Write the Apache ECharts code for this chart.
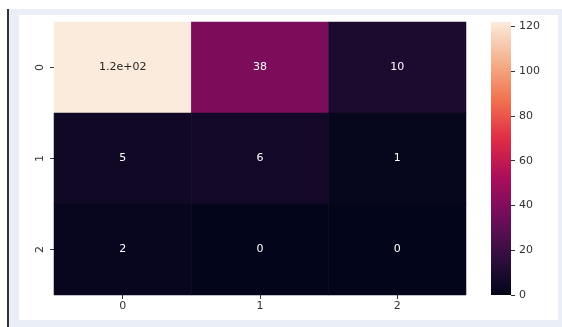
<!DOCTYPE html>
<html>
<head>
<meta charset="utf-8">
<script src="https://cdn.jsdelivr.net/npm/echarts@6/dist/echarts.min.js"></script>
<style>
  html, body { margin: 0; padding: 0; background: #ffffff; }
  #frame { position: absolute; left: 7px; top: 9px; width: 555px; height: 318px;
           background: #e9eef7; border-left: 2px solid #333; box-sizing: border-box; }
  #panel { position: absolute; left: 19px; top: 15px; width: 539px; height: 305px; background: #ffffff; }
  #chart { position: absolute; left: 0; top: 0; width: 562px; height: 327px; }
</style>
</head>
<body>
<div id="frame"></div>
<div id="panel"></div>
<div id="chart"></div>
<script>
// Data
const xCategories = ['0', '1', '2'];
const yCategories = ['0', '1', '2'];
const matrix = [
  [122, 38, 10],
  [5, 6, 1],
  [2, 0, 0]
];
const colorbarTicks = [0, 20, 40, 60, 80, 100, 120];
const colorMin = 0;
const colorMax = 122;
const rocketStops = ['#03051a', '#310f3f', '#700d5a', '#ab0d5b', '#df2c45', '#f1724f', '#f5b18c', '#faebdd'];

function fmt2g(v) {
  if (Math.abs(v) >= 100) {
    const s = v.toExponential(1); // e.g. 1.2e+2
    return s.replace(/e([+-])(\d)$/, 'e$10$2');
  }
  return String(v);
}

const heatData = [];
matrix.forEach((row, r) => {
  row.forEach((v, c) => {
    heatData.push({
      value: [c, r, v],
      label: { color: v / colorMax > 0.6 ? '#262626' : '#ffffff' }
    });
  });
});

const stopsObj = rocketStops.map((c, i) => ({ offset: i / (rocketStops.length - 1), color: c }));

const chart = echarts.init(document.getElementById('chart'), null, { renderer: 'canvas' });
const font = 'DejaVu Sans';
chart.setOption({
  animation: false,
  backgroundColor: 'transparent',
  grid: [
    { left: 54, top: 22, width: 412, height: 273, containLabel: false },
    { left: 491, top: 22, width: 20, height: 273, show: true, borderWidth: 0, containLabel: false,
      backgroundColor: { type: 'linear', x: 0, y: 1, x2: 0, y2: 0, colorStops: stopsObj } }
  ],
  xAxis: [
    { type: 'category', data: xCategories, gridIndex: 0,
      axisLine: { show: false },
      axisTick: { show: true, alignWithLabel: true, length: 4, lineStyle: { color: '#333' } },
      axisLabel: { color: '#333', fontFamily: font, fontSize: 11, margin: 6 },
      splitLine: { show: false } },
    { type: 'value', gridIndex: 1, show: false, min: 0, max: 1,
      axisLine: { show: false, onZero: false }, axisTick: { show: false },
      axisLabel: { show: false }, splitLine: { show: false } }
  ],
  yAxis: [
    { type: 'category', data: yCategories, gridIndex: 0, inverse: true,
      axisLine: { show: false },
      axisTick: { show: true, alignWithLabel: true, length: 4, lineStyle: { color: '#333' } },
      axisLabel: { color: '#333', fontFamily: font, fontSize: 11, rotate: 90, margin: 8 },
      splitLine: { show: false } },
    { type: 'value', gridIndex: 1, position: 'right', min: colorMin, max: colorMax, interval: 20,
      axisLine: { show: false, onZero: false },
      axisTick: { show: true, length: 4, lineStyle: { color: '#333' }, customValues: colorbarTicks },
      axisLabel: { color: '#333', fontFamily: font, fontSize: 11, margin: 8, customValues: colorbarTicks },
      splitLine: { show: false } }
  ],
  visualMap: {
    show: false, type: 'continuous', min: colorMin, max: colorMax, dimension: 2,
    seriesIndex: 0, inRange: { color: rocketStops }
  },
  series: [
    { type: 'heatmap', xAxisIndex: 0, yAxisIndex: 0, data: heatData,
      label: { show: true, fontFamily: font, fontSize: 11,
               formatter: p => fmt2g(p.value[2]) },
      emphasis: { disabled: true },
      itemStyle: { borderWidth: 0 } }
  ]
});
</script>
</body>
</html>
